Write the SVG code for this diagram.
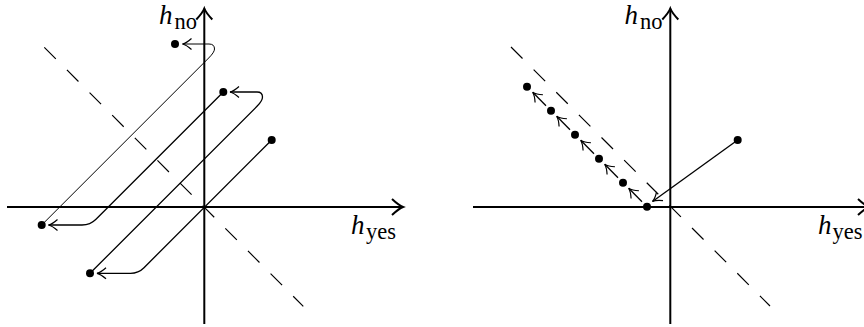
<svg xmlns="http://www.w3.org/2000/svg" width="864" height="327" viewBox="0 0 864 327">
<style>
.axis{stroke:#000;stroke-width:2;fill:none;marker-end:url(#bigArrow)}
.dash{stroke:#000;stroke-width:1.2;fill:none;stroke-dasharray:16.3 15.7}
.conn{stroke:#000;stroke-width:1.3;fill:none;marker-end:url(#arrow)}
.thin{stroke-width:1}
.dot{fill:#000}
.lbl{font-family:"Liberation Serif",serif;fill:#000}
.it{font-style:italic;font-size:27px}
.sub{font-size:22.5px}
</style>
<defs>
<marker id="arrow" markerUnits="userSpaceOnUse" markerWidth="20" markerHeight="20" refX="0" refY="0" viewBox="-12 -10 14 20" orient="auto" overflow="visible">
<path d="M-9,-5.5 Q-4,-1 0,0 Q-4,1 -9,5.5" fill="none" stroke="#000" stroke-width="1.2"/>
</marker>
<marker id="bigArrow" markerUnits="userSpaceOnUse" markerWidth="24" markerHeight="24" refX="0" refY="0" viewBox="-14 -12 16 24" orient="auto" overflow="visible">
<path d="M-11,-8 Q-4,-1.5 0,0 Q-4,1.5 -11,8" fill="none" stroke="#000" stroke-width="2"/>
</marker>
</defs>

<g id="labels">
<text class="lbl it" x="159" y="23.5">h</text>
<text class="lbl sub" x="174.5" y="28.5">no</text>
<text class="lbl it" x="351" y="233.5">h</text>
<text class="lbl sub" x="366" y="238.5">yes</text>
<text class="lbl it" x="624.5" y="23.5">h</text>
<text class="lbl sub" x="640" y="28.5">no</text>
<text class="lbl it" x="818" y="233.5">h</text>
<text class="lbl sub" x="832.5" y="238.5">yes</text>
</g>

<g id="axes">
<path class="axis" d="M204.3,324 L204.3,8.5"/>
<path class="axis" d="M7,207 L403,207"/>
<path class="dash" d="M44.3,47.3 L303.3,306.3"/>
<path class="axis" d="M670.3,324 L670.3,8.5"/>
<path class="axis" d="M473,207 L869,207"/>
<path class="dash" d="M511,47 L770,306"/>
</g>

<g id="connectors">
<path class="conn" d="M271.7,140 L144,267.7 Q138.4,273.3 130.5,273.3 L97,273.3"/>
<path class="conn" d="M90,273.3 L257,106.3 Q262.5,100.8 262.5,97 Q262.5,92 257,92 L230,92"/>
<path class="conn" d="M223.3,92 L96,219.3 Q90.3,225 82,225 L48.5,225"/>
<path class="conn thin" d="M41.7,225 L208.7,58 Q214.5,52.2 214.5,49 Q214.5,44 209,44 L182.5,44"/>
<path class="conn" d="M737.7,140 L652.5,201.5"/>
<path class="conn" d="M642,201.7 L628.7,188.2"/>
<path class="conn" d="M618,177.7 L604.7,164.2"/>
<path class="conn" d="M594,153.7 L580.7,140.2"/>
<path class="conn" d="M570,129.7 L556.7,116.2"/>
<path class="conn" d="M546,105.7 L532.7,92.2"/>
</g>

<g id="L1"><circle class="dot" cx="271.7" cy="140" r="4"/></g>
<g id="L2"><circle class="dot" cx="90" cy="273.3" r="4"/></g>
<g id="L3"><circle class="dot" cx="223.3" cy="92" r="4"/></g>
<g id="L4"><circle class="dot" cx="41.7" cy="225" r="4"/></g>
<g id="L5"><circle class="dot" cx="175" cy="44" r="4"/></g>
<g id="R0"><circle class="dot" cx="737.7" cy="140" r="4"/></g>
<g id="R1"><circle class="dot" cx="647" cy="206.7" r="4"/></g>
<g id="R2"><circle class="dot" cx="623" cy="182.7" r="4"/></g>
<g id="R3"><circle class="dot" cx="599" cy="158.7" r="4"/></g>
<g id="R4"><circle class="dot" cx="575" cy="134.7" r="4"/></g>
<g id="R5"><circle class="dot" cx="551" cy="110.7" r="4"/></g>
<g id="R6"><circle class="dot" cx="527" cy="86.7" r="4"/></g>
</svg>
